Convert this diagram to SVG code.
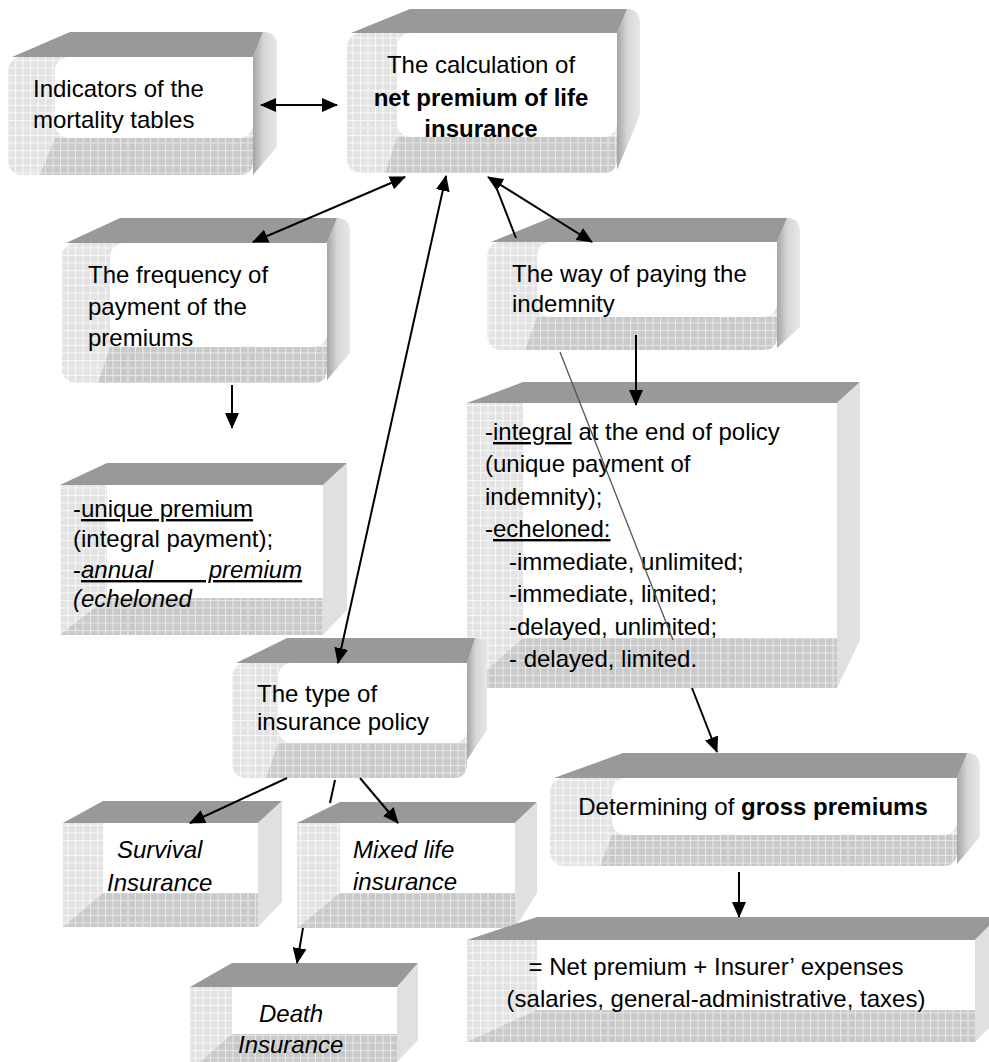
<svg xmlns="http://www.w3.org/2000/svg" width="989" height="1062" viewBox="0 0 989 1062">
<style>
.t{font-family:"Liberation Sans",Arial,sans-serif;font-size:24px;fill:#000}
.b{font-weight:bold}
.i{font-style:italic}
.u{text-decoration:underline}
.top{fill:#999}
.rf{fill:#e0e0e0}
.rr{fill:url(#gR)}
.fl{fill:url(#gl)}
.fd{fill:url(#gd)}
.w{fill:#fff}
.c{stroke:#000;stroke-width:2;fill:none}
.cg{stroke:#555;stroke-width:1.3;fill:none}
</style>
<defs>
<pattern id="gl" width="7.5" height="7.5" patternUnits="userSpaceOnUse"><rect width="7.5" height="7.5" fill="#e3e3e3"/><path d="M0 0.5H7.5M0.5 0V7.5" stroke="#f8f8f8" stroke-width="1"/></pattern>
<pattern id="gd" width="7.5" height="7.5" patternUnits="userSpaceOnUse"><rect width="7.5" height="7.5" fill="#c9c9c9"/><path d="M0 0.5H7.5M0.5 0V7.5" stroke="#e8e8e8" stroke-width="1"/></pattern>
<linearGradient id="gR" x1="0" y1="0" x2="1" y2="0"><stop offset="0" stop-color="#a5a5a5"/><stop offset="0.45" stop-color="#d6d6d6"/><stop offset="1" stop-color="#e8e8e8"/></linearGradient>
<marker id="ah" viewBox="0 0 16 14" refX="15" refY="7" markerWidth="16" markerHeight="14" markerUnits="userSpaceOnUse" orient="auto-start-reverse"><path d="M0,0 L16,7 L0,14 Z" fill="#000"/></marker>
</defs>
<rect width="989" height="1062" fill="#fff"/>

<g id="box-indicators">
<path class="rr" d="M253,57 L263,32 Q277,32 277,46 L277,147 L253,175 Z"/>
<path class="top" d="M12,57 L70,32 L263,32 L253,57 Z"/>
<rect class="fl" x="8" y="57" width="245" height="118" rx="14"/>
<path class="fd" d="M40,175 L55,138 L253,138 L253,161 Q253,175 239,175 Z"/>
<rect class="w" x="55" y="57" width="198" height="81" rx="14"/>
<text class="t" x="33" y="97">Indicators of the</text>
<text class="t" x="33" y="128">mortality tables</text>
</g>

<g id="box-calculation">
<path class="rr" d="M617,33 L627,9 Q640,9 640,23 L640,115 L617,170 Z"/>
<path class="top" d="M351,33 L410,9 L627,9 L617,33 Z"/>
<rect class="fl" x="347" y="33" width="270" height="140" rx="14"/>
<path class="fd" d="M385,173 L397,137 L617,137 L617,159 Q617,173 603,173 Z"/>
<rect class="w" x="397" y="33" width="220" height="104" rx="14"/>
<text class="t" x="481" y="73" text-anchor="middle">The calculation of</text>
<text class="t b" x="481" y="106" text-anchor="middle">net premium of life</text>
<text class="t b" x="481" y="137" text-anchor="middle">insurance</text>
</g>

<g id="box-frequency">
<path class="rr" d="M327,243 L337,218 Q350,218 350,232 L350,353 L327,380 Z"/>
<path class="top" d="M66,243 L120,218 L337,218 L327,243 Z"/>
<rect class="fl" x="62" y="243" width="265" height="140" rx="14"/>
<path class="fd" d="M98,383 L110,347 L327,347 L327,369 Q327,383 313,383 Z"/>
<rect class="w" x="110" y="243" width="217" height="104" rx="14"/>
<text class="t" x="88" y="283">The frequency of</text>
<text class="t" x="88" y="315">payment of the</text>
<text class="t" x="88" y="346">premiums</text>
</g>

<g id="box-way">
<path class="rr" d="M777,242 L787,218 Q800,218 800,232 L800,327 L777,348 Z"/>
<path class="top" d="M491,242 L550,218 L787,218 L777,242 Z"/>
<rect class="fl" x="487" y="242" width="290" height="108" rx="14"/>
<path class="fd" d="M525,350 L537,317 L777,317 L777,336 Q777,350 763,350 Z"/>
<rect class="w" x="537" y="242" width="240" height="75" rx="14"/>
<text class="t" x="512" y="282">The way of paying the</text>
<text class="t" x="512" y="312">indemnity</text>
</g>

<g id="box-indemnity-list">
<path class="top" d="M467,403 L523,382 L860,382 L837,403 Z"/>
<path class="rf" d="M837,403 L860,382 L860,640 L837,688 Z"/>
<rect class="fl" x="467" y="403" width="370" height="285"/>
<path class="fd" d="M467,688 L523,638 L837,638 L837,688 Z"/>
<rect class="w" x="523" y="403" width="314" height="235"/>
<text class="t" x="485" y="440">-<tspan class="u">integral</tspan> at the end of policy</text>
<text class="t" x="485" y="472">(unique payment of</text>
<text class="t" x="485" y="505">indemnity);</text>
<text class="t" x="485" y="537">-<tspan class="u">echeloned:</tspan></text>
<text class="t" x="509" y="570">-immediate, unlimited;</text>
<text class="t" x="509" y="602">-immediate, limited;</text>
<text class="t" x="509" y="635">-delayed, unlimited;</text>
<text class="t" x="509" y="667">- delayed, limited.</text>
</g>

<g id="box-premium-list">
<path class="top" d="M60,485 L107,463 L347,463 L323,485 Z"/>
<path class="rf" d="M323,485 L347,463 L347,610 L323,635 Z"/>
<rect class="fl" x="60" y="485" width="263" height="150"/>
<path class="fd" d="M60,635 L107,598 L323,598 L323,635 Z"/>
<rect class="w" x="107" y="485" width="216" height="113"/>
<text class="t" x="73" y="517">-<tspan class="u">unique premium</tspan></text>
<text class="t" x="73" y="547">(integral payment);</text>
<text class="t" x="73" y="578">-<tspan class="u i" word-spacing="49">annual premium</tspan></text>
<text class="t i" x="73" y="607">(echeloned</text>
</g>

<g id="box-type">
<path class="rr" d="M467,663 L475,638 Q487,638 487,652 L487,730 L467,760 Z"/>
<path class="top" d="M236,663 L287,638 L475,638 L467,663 Z"/>
<rect class="fl" x="232" y="663" width="235" height="115" rx="14"/>
<path class="fd" d="M266,778 L278,743 L467,743 L467,764 Q467,778 453,778 Z"/>
<rect class="w" x="278" y="663" width="189" height="80" rx="14"/>
<text class="t" x="257" y="702">The type of</text>
<text class="t" x="257" y="730">insurance policy</text>
</g>

<g id="box-survival">
<path class="top" d="M63,823 L103,801 L282,801 L258,823 Z"/>
<path class="rf" d="M258,823 L282,801 L282,902 L258,927 Z"/>
<rect class="fl" x="63" y="823" width="195" height="104"/>
<path class="fd" d="M63,927 L103,893 L258,893 L258,927 Z"/>
<rect class="w" x="103" y="823" width="155" height="70"/>
<text class="t i" x="117" y="858">Survival</text>
<text class="t i" x="107" y="891">Insurance</text>
</g>

<g id="box-mixed">
<path class="top" d="M297,823 L340,802 L537,802 L515,823 Z"/>
<path class="rf" d="M515,823 L537,802 L537,893 L515,928 Z"/>
<rect class="fl" x="297" y="823" width="218" height="105"/>
<path class="fd" d="M297,928 L340,893 L515,893 L515,928 Z"/>
<rect class="w" x="340" y="823" width="175" height="70"/>
<text class="t i" x="353" y="858">Mixed life</text>
<text class="t i" x="353" y="890">insurance</text>
</g>

<g id="box-death">
<path class="top" d="M190,987 L232,963 L418,963 L397,987 Z"/>
<path class="rf" d="M397,987 L418,963 L418,1040 L397,1062 Z"/>
<rect class="fl" x="190" y="987" width="207" height="75"/>
<path class="fd" d="M200,1062 L232,1034 L397,1034 L397,1062 Z"/>
<rect class="w" x="232" y="987" width="165" height="47"/>
<text class="t i" x="259" y="1022">Death</text>
<text class="t i" x="238" y="1053">Insurance</text>
</g>

<g id="box-gross">
<path class="rr" d="M957,778 L967,753 Q980,753 980,767 L980,837 L957,864 Z"/>
<path class="top" d="M554,778 L623,753 L967,753 L957,778 Z"/>
<rect class="fl" x="550" y="778" width="407" height="88" rx="14"/>
<path class="fd" d="M600,866 L612,835 L957,835 L957,852 Q957,866 943,866 Z"/>
<rect class="w" x="612" y="778" width="345" height="57" rx="14"/>
<text class="t" x="753" y="815" text-anchor="middle">Determining of <tspan class="b">gross premiums</tspan></text>
</g>

<g id="box-net-plus-expenses">
<path class="top" d="M467,940 L537,917 L998,917 L975,940 Z"/>
<path class="rf" d="M975,940 L998,917 L998,1019 L975,1042 Z"/>
<rect class="fl" x="467" y="940" width="508" height="102"/>
<path class="fd" d="M467,1042 L537,1010 L975,1010 L975,1042 Z"/>
<rect class="w" x="537" y="940" width="438" height="70"/>
<text class="t" x="716" y="975" text-anchor="middle">= Net premium + Insurer’ expenses</text>
<text class="t" x="716" y="1007" text-anchor="middle">(salaries, general-administrative, taxes)</text>
</g>

<g id="connectors">
<line class="c" x1="261" y1="105" x2="337" y2="105" marker-start="url(#ah)" marker-end="url(#ah)"/>
<line class="c" x1="405" y1="177" x2="253" y2="242" marker-start="url(#ah)" marker-end="url(#ah)"/>
<line class="c" x1="446" y1="176" x2="338" y2="663" marker-start="url(#ah)" marker-end="url(#ah)"/>
<line class="c" x1="488" y1="177" x2="592" y2="242" marker-start="url(#ah)" marker-end="url(#ah)"/>
<line class="c" x1="493" y1="179" x2="516" y2="238"/>
<line class="cg" x1="560" y1="352" x2="673" y2="640"/>
<line class="c" x1="692" y1="688" x2="717" y2="752" marker-end="url(#ah)"/>
<line class="c" x1="232" y1="385" x2="232" y2="428" marker-end="url(#ah)"/>
<line class="c" x1="636" y1="335" x2="636" y2="405" marker-end="url(#ah)"/>
<line class="c" x1="287" y1="778" x2="190" y2="823" marker-end="url(#ah)"/>
<line class="c" x1="360" y1="778" x2="398" y2="823" marker-end="url(#ah)"/>
<line class="c" x1="335" y1="780" x2="330" y2="803"/>
<line class="c" x1="303" y1="928" x2="297" y2="963" marker-end="url(#ah)"/>
<line class="c" x1="739" y1="872" x2="739" y2="917" marker-end="url(#ah)"/>
</g>
</svg>
